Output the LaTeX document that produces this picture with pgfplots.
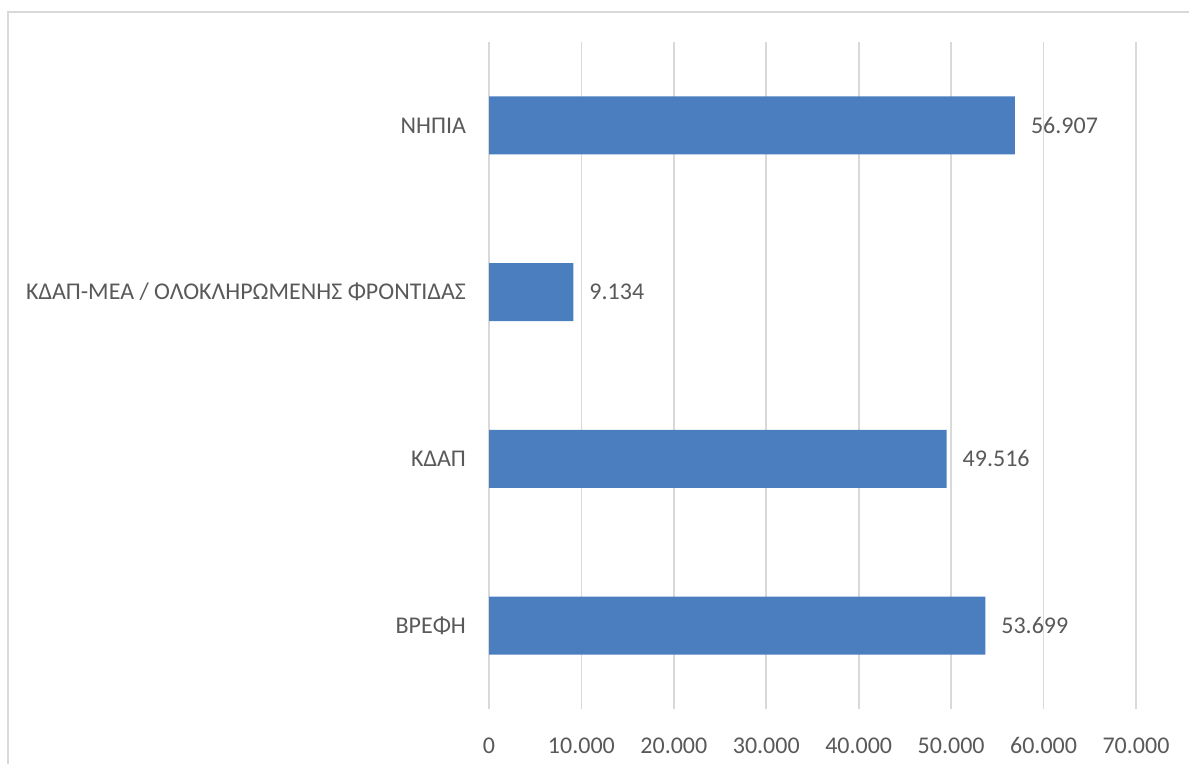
\documentclass[border=0pt]{standalone}
\usepackage{pgfplots}
\pgfplotsset{compat=1.18}
\usepackage{fontspec}
\setmainfont{Carlito}
\definecolor{barblue}{HTML}{4A7EBF}
\definecolor{gridgray}{HTML}{D9D9D9}
\definecolor{txtgray}{HTML}{595959}
\begin{document}
\begin{tikzpicture}
\useasboundingbox (0,0) rectangle (594.5pt,-382pt);
\draw[gridgray, line width=0.8pt] (4pt,-400pt) -- (4pt,-6pt) -- (620pt,-6pt);
\begin{axis}[
  at={(244.5pt,-354.5pt)}, anchor=south west,
  scale only axis,
  width=323.5pt, height=333.5pt,
  xbar, bar width=29pt,
  xmin=0, xmax=70000,
  ymin=-0.5, ymax=3.5,
  xtick={0,10000,20000,30000,40000,50000,60000,70000},
  scaled x ticks=false,
  xticklabel={\pgfmathprintnumber[fixed,precision=0,1000 sep={.},assume math mode=true]{\tick}},
  ytick={0,1,2,3},
  yticklabels={ΒΡΕΦΗ,ΚΔΑΠ,ΚΔΑΠ-ΜΕΑ / ΟΛΟΚΛΗΡΩΜΕΝΗΣ ΦΡΟΝΤΙΔΑΣ,ΝΗΠΙΑ},
  major tick length=0pt,
  axis line style={draw=none},
  xmajorgrids, grid style={gridgray, line width=0.8pt},
  tick label style={font=\fontsize{12}{14}\selectfont, text=txtgray},
  xticklabel style={anchor=base, yshift=-22pt},
  yticklabel style={xshift=-8pt},
  nodes near coords,
  nodes near coords style={font=\fontsize{12}{14}\selectfont, text=txtgray, xshift=4.5pt,
    /pgf/number format/.cd, fixed, precision=0, 1000 sep={.}, assume math mode=true},
  clip=false,
]
\addplot[fill=barblue, draw=none] coordinates {(53699,0) (49516,1) (9134,2) (56907,3)};
\end{axis}
\end{tikzpicture}
\end{document}
